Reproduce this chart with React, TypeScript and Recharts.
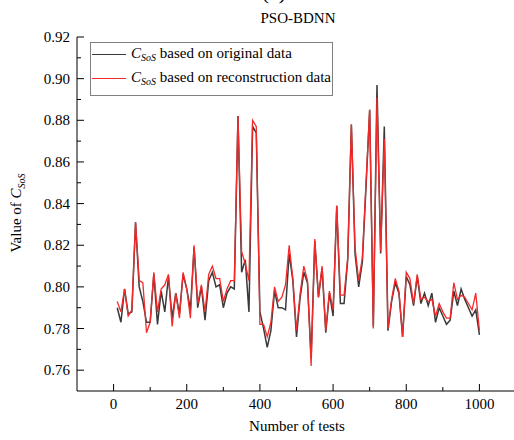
import React from 'react';
import { LineChart, Line, XAxis, YAxis, Legend, Label } from 'recharts';

// number of tests (x) and the two C_SoS series
const tests = [
  10, 20, 30, 40, 50, 60, 70, 80, 90, 100,
  110, 120, 130, 140, 150, 160, 170, 180, 190, 200,
  210, 220, 230, 240, 250, 260, 270, 280, 290, 300,
  310, 320, 330, 340, 350, 360, 370, 380, 390, 400,
  410, 420, 430, 440, 450, 460, 470, 480, 490, 500,
  510, 520, 530, 540, 550, 560, 570, 580, 590, 600,
  610, 620, 630, 640, 650, 660, 670, 680, 690, 700,
  710, 720, 730, 740, 750, 760, 770, 780, 790, 800,
  810, 820, 830, 840, 850, 860, 870, 880, 890, 900,
  910, 920, 930, 940, 950, 960, 970, 980, 990, 1000,
];

const original = [
  0.790, 0.783, 0.799, 0.787, 0.788, 0.831, 0.800, 0.793, 0.783, 0.783,
  0.806, 0.782, 0.798, 0.788, 0.805, 0.785, 0.797, 0.787, 0.806, 0.799,
  0.789, 0.819, 0.790, 0.800, 0.784, 0.803, 0.807, 0.800, 0.801, 0.790,
  0.797, 0.800, 0.799, 0.882, 0.807, 0.813, 0.788, 0.877, 0.874, 0.788,
  0.780, 0.771, 0.779, 0.798, 0.790, 0.790, 0.789, 0.816, 0.803, 0.776,
  0.795, 0.807, 0.802, 0.766, 0.822, 0.795, 0.809, 0.778, 0.797, 0.786,
  0.839, 0.792, 0.792, 0.813, 0.878, 0.816, 0.800, 0.812, 0.848, 0.885,
  0.781, 0.897, 0.816, 0.877, 0.779, 0.793, 0.802, 0.797, 0.776, 0.805,
  0.801, 0.791, 0.805, 0.792, 0.797, 0.791, 0.797, 0.783, 0.790, 0.786,
  0.782, 0.784, 0.798, 0.791, 0.799, 0.794, 0.790, 0.786, 0.789, 0.777,
];

const reconstruction = [
  0.793, 0.788, 0.799, 0.786, 0.789, 0.831, 0.803, 0.802, 0.778, 0.783,
  0.807, 0.788, 0.799, 0.801, 0.806, 0.781, 0.797, 0.785, 0.807, 0.799,
  0.785, 0.820, 0.792, 0.801, 0.788, 0.806, 0.810, 0.804, 0.804, 0.793,
  0.799, 0.803, 0.803, 0.882, 0.817, 0.811, 0.803, 0.880, 0.877, 0.782,
  0.782, 0.776, 0.783, 0.800, 0.793, 0.795, 0.801, 0.820, 0.804, 0.779,
  0.797, 0.810, 0.803, 0.762, 0.823, 0.795, 0.810, 0.779, 0.798, 0.789,
  0.839, 0.796, 0.796, 0.814, 0.878, 0.819, 0.803, 0.814, 0.850, 0.885,
  0.780, 0.891, 0.817, 0.871, 0.780, 0.794, 0.804, 0.798, 0.776, 0.807,
  0.804, 0.792, 0.806, 0.794, 0.795, 0.793, 0.794, 0.786, 0.792, 0.788,
  0.785, 0.785, 0.802, 0.794, 0.796, 0.795, 0.792, 0.789, 0.797, 0.779,
];

const xTicks = [0, 100, 200, 300, 400, 500, 600, 700, 800, 900, 1000];
const yTicks = [
  0.76, 0.77, 0.78, 0.79, 0.8, 0.81, 0.82, 0.83, 0.84,
  0.85, 0.86, 0.87, 0.88, 0.89, 0.9, 0.91, 0.92,
];

const data = tests.map((t, i) => ({ t, original: original[i], reconstruction: reconstruction[i] }));

const font = '"Liberation Serif", "Times New Roman", Times, serif';
const txt = { fontFamily: font, fontSize: 15, fill: '#000' };

const XTick = ({ x, y, payload }: any) => {
  const major = payload.value % 200 === 0;
  return (
    <g>
      <line x1={x} y1={y} x2={x} y2={y - (major ? 7 : 4)} stroke="#000" />
      {major && (
        <text x={x} y={y + 18} textAnchor="middle" style={txt}>
          {payload.value}
        </text>
      )}
    </g>
  );
};

const YTick = ({ x, y, payload }: any) => {
  const major = Math.round(payload.value * 100) % 2 === 0;
  return (
    <g>
      <line x1={x} y1={y} x2={x + (major ? 7 : 4)} y2={y} stroke="#000" />
      {major && (
        <text x={x - 7} y={y + 5} textAnchor="end" style={txt}>
          {payload.value.toFixed(2)}
        </text>
      )}
    </g>
  );
};

const Csos = () => (
  <>
    <i>C</i>
    <sub style={{ fontSize: 10, fontStyle: 'italic', verticalAlign: -3 }}>SoS</sub>
  </>
);

const labels: Record<string, string> = {
  original: 'based on original data',
  reconstruction: 'based on reconstruction data',
};

const renderLegend = (props: any) => {
  const items = (props.payload || []) as any[];
  return (
    <div
      style={{
        position: 'relative',
        width: 241,
        height: 52,
        border: '1px solid #808080',
        background: '#fff',
        fontFamily: font,
        fontSize: 15,
        color: '#000',
      }}
    >
      {items.map((it, i) => (
        <div key={it.dataKey} style={{ position: 'absolute', left: 0, top: i * 24 - 1, height: 24, display: 'flex', alignItems: 'center', whiteSpace: 'nowrap' }}>
          <span style={{ display: 'inline-block', marginLeft: 1, width: 34, height: 0, borderTop: `1.5px solid ${it.color}` }} />
          <span style={{ marginLeft: 5 }}>
            <Csos /> {labels[it.dataKey]}
          </span>
        </div>
      ))}
    </div>
  );
};

const YTitle = () => (
  <g>
    <text x={274} y={-1} textAnchor="middle" style={{ ...txt, fontSize: 22 }}>(a)</text>
    <text x={298} y={23} textAnchor="middle" style={txt}>PSO-BDNN</text>
    <text transform="translate(21,213) rotate(-90)" textAnchor="middle" style={txt}>
      Value of <tspan fontStyle="italic">C</tspan>
      <tspan fontStyle="italic" fontSize={10} dy={4}>SoS</tspan>
    </text>
  </g>
);

const XTitle = () => (
  <text x={297} y={431} textAnchor="middle" style={txt}>
    Number of tests
  </text>
);

const App: React.FC = () => (
  <div style={{ position: 'absolute', left: 0, top: 0, width: 514, height: 440, overflow: 'hidden', background: '#fff' }}>
    <LineChart width={530} height={440} data={data} margin={{ top: 37, right: 14, bottom: 0, left: 0 }} style={{ overflow: 'visible' }}>
      <XAxis
        dataKey="t"
        type="number"
        domain={[-100, 1100]}
        ticks={xTicks}
        interval={0}
        height={49}
        tickSize={0}
        tickMargin={0}
        tickLine={false}
        tick={<XTick />}
        axisLine={{ stroke: '#000' }}
        allowDataOverflow
      >
        <Label content={<XTitle />} />
      </XAxis>
      <XAxis
        xAxisId="top"
        orientation="top"
        type="number"
        domain={[-100, 1100]}
        height={0}
        tick={false}
        tickLine={false}
        axisLine={{ stroke: '#000' }}
      />
      <YAxis
        type="number"
        domain={[0.75, 0.92]}
        ticks={yTicks}
        interval={0}
        width={77}
        tickSize={0}
        tickMargin={0}
        tickLine={false}
        tick={<YTick />}
        axisLine={{ stroke: '#000' }}
        allowDataOverflow
      >
        <Label content={<YTitle />} />
      </YAxis>
      <YAxis
        yAxisId="right"
        orientation="right"
        type="number"
        domain={[0.75, 0.92]}
        width={0}
        tick={false}
        tickLine={false}
        axisLine={{ stroke: '#000' }}
      />
      <Legend
        layout="vertical"
        align="center"
        verticalAlign="middle"
        content={renderLegend}
        wrapperStyle={{ left: 90, top: 42, width: 243, height: 54 }}
      />
      <Line type="linear" dataKey="original" stroke="#3a3a3a" strokeWidth={1.5} dot={false} isAnimationActive={false} />
      <Line type="linear" dataKey="reconstruction" stroke="#f42a2a" strokeWidth={1.3} dot={false} isAnimationActive={false} />
    </LineChart>
  </div>
);

export default App;
